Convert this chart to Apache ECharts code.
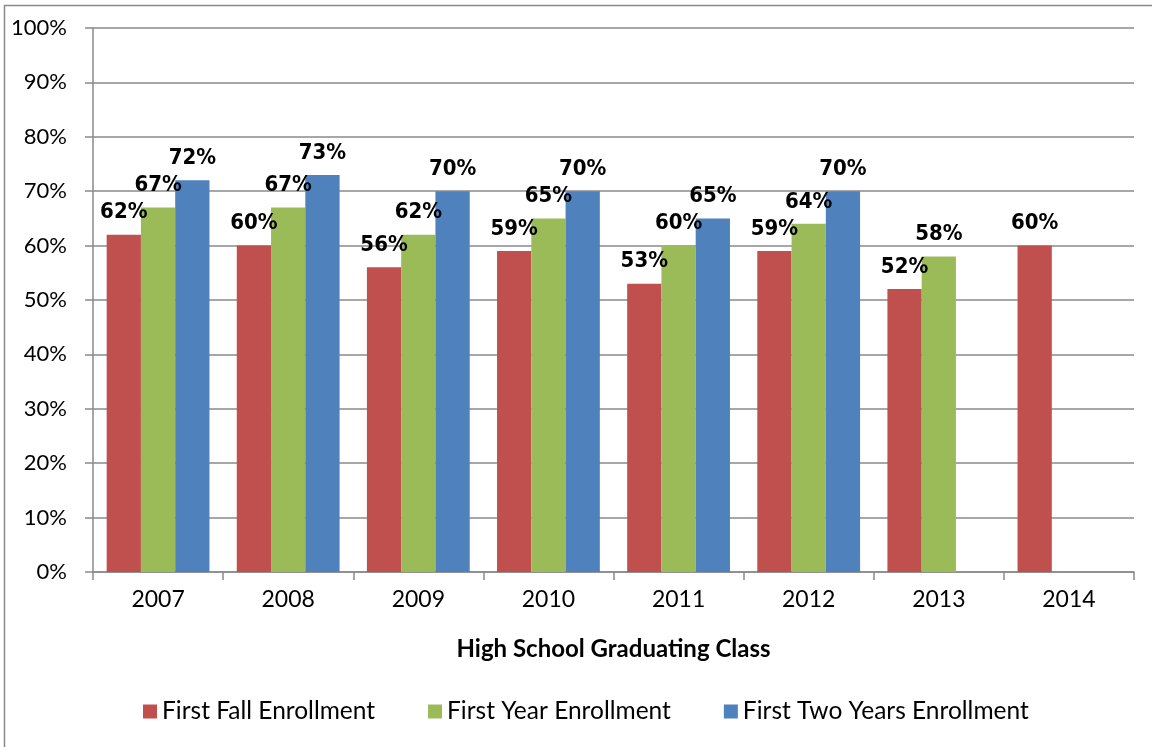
<!DOCTYPE html>
<html>
<head>
<meta charset="utf-8">
<script src="https://cdn.jsdelivr.net/npm/echarts@6/dist/echarts.min.js"></script>
<style>
  html, body { margin: 0; padding: 0; background: #fff; }
  #chart { width: 1152px; height: 747px; }
</style>
</head>
<body>
<div id="chart"></div>
<script>
// graduating classes
var classes = ['2007', '2008', '2009', '2010', '2011', '2012', '2013', '2014'];
// enrollment rates, percent
var firstFall = [62, 60, 56, 59, 53, 59, 52, 60];
var firstYear = [67, 67, 62, 65, 60, 64, 58, null];
var firstTwoYears = [72, 73, 70, 70, 65, 70, null, null];
var seriesNames = ['First Fall Enrollment', 'First Year Enrollment', 'First Two Years Enrollment'];
var yTicks = [0, 10, 20, 30, 40, 50, 60, 70, 80, 90, 100];

var chart = echarts.init(document.getElementById('chart'));
var bodyFont = 'Lato';
var gray = '#8a8a8a';

function barSeries(name, data, color) {
  return {
    name: name,
    type: 'bar',
    data: data,
    barGap: '0%',
    barCategoryGap: '21%',
    itemStyle: { color: color },
    label: {
      show: true,
      position: 'top',
      distance: 11,
      formatter: '{c}%',
      fontFamily: '"DejaVu Sans Condensed", "Liberation Sans", sans-serif',
      fontWeight: 'bold',
      fontSize: 22,
      color: '#000'
    }
  };
}

chart.setOption({
  animation: false,
  graphic: [{
    type: 'rect',
    shape: { x: 4.5, y: 5.5, width: 1160, height: 760 },
    style: { fill: 'none', stroke: gray, lineWidth: 1.5 },
    silent: true
  }],
  grid: { left: 93, right: 18, top: 28, bottom: 175 },
  legend: {
    data: seriesNames,
    left: 138,
    top: 694,
    itemWidth: 14,
    itemHeight: 14,
    itemGap: 53,
    icon: 'rect',
    textStyle: { fontFamily: bodyFont, fontSize: 24.5, color: '#000' }
  },
  xAxis: {
    type: 'category',
    data: classes,
    name: 'High School Graduating Class',
    nameLocation: 'middle',
    nameGap: 65,
    nameTextStyle: { fontFamily: bodyFont, fontWeight: 'bold', fontSize: 24, color: '#000' },
    axisLine: { lineStyle: { color: gray, width: 1.5 } },
    axisTick: { show: true, length: 8, lineStyle: { color: gray, width: 1.5 } },
    axisLabel: { fontFamily: bodyFont, fontSize: 23, color: '#000', margin: 16 }
  },
  yAxis: {
    type: 'value',
    min: yTicks[0],
    max: yTicks[yTicks.length - 1],
    interval: 10,
    axisLine: { show: true, lineStyle: { color: gray, width: 1.5 } },
    axisTick: { show: true, length: 8, lineStyle: { color: gray, width: 1.5 } },
    axisLabel: { formatter: '{value}%', fontFamily: bodyFont, fontSize: 22, color: '#000', margin: 26 },
    splitLine: { show: true, lineStyle: { color: gray, width: 1.5 } }
  },
  series: [
    barSeries(seriesNames[0], firstFall, '#C0504D'),
    barSeries(seriesNames[1], firstYear, '#9BBB59'),
    barSeries(seriesNames[2], firstTwoYears, '#4F81BD')
  ]
});
</script>
</body>
</html>
